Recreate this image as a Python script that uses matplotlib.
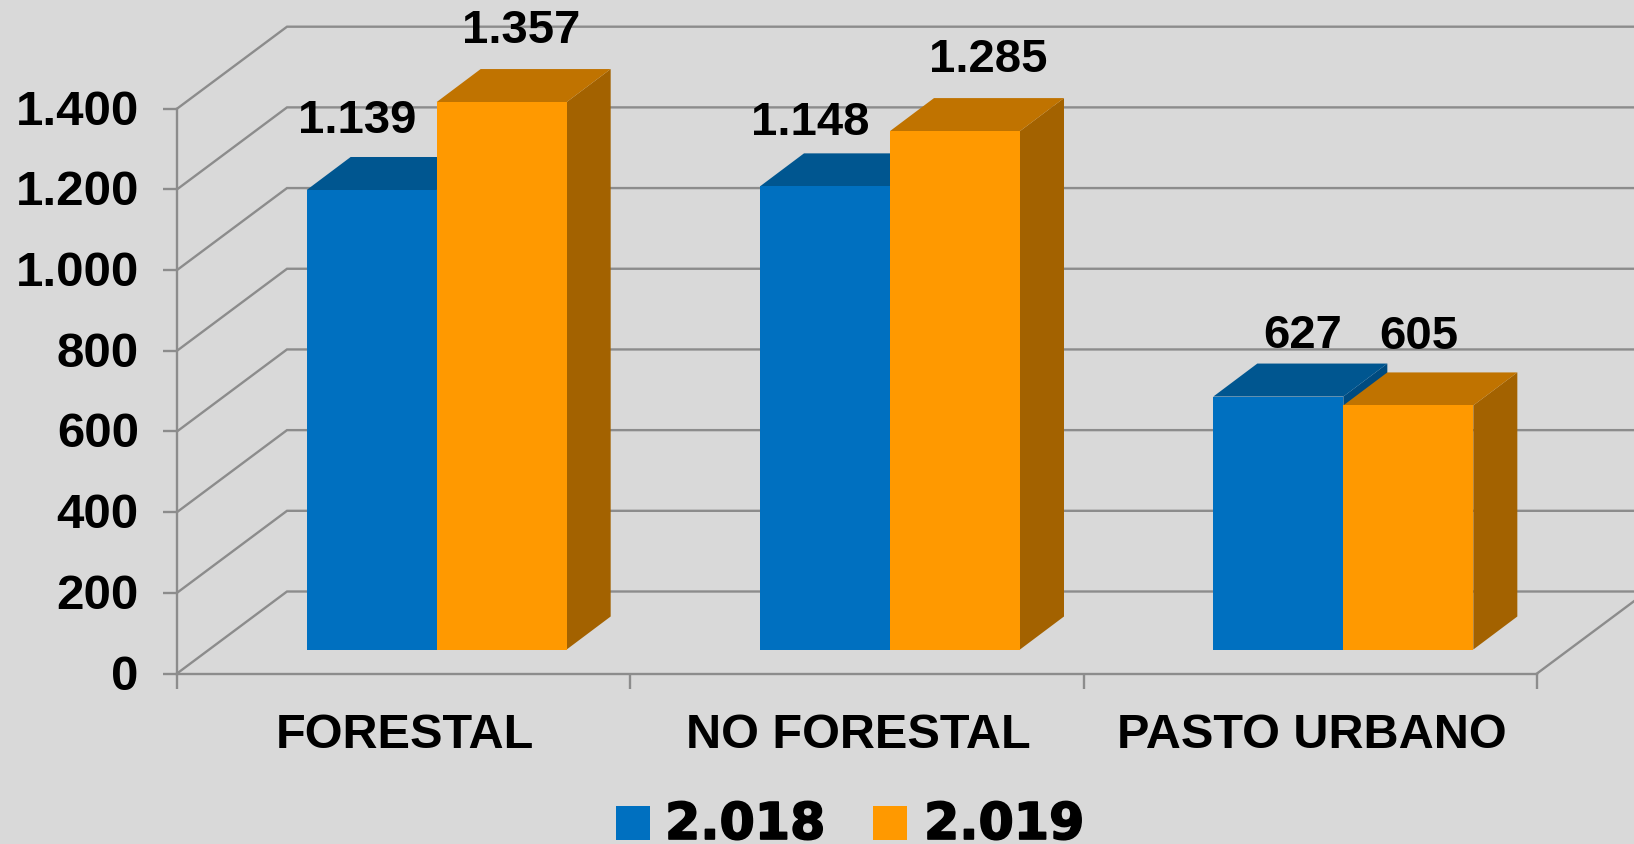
import matplotlib
matplotlib.use("Agg")
import matplotlib.pyplot as plt
import matplotlib.patheffects as pe
from matplotlib.patches import Polygon, Rectangle
from matplotlib.transforms import ScaledTranslation

categories = ["FORESTAL", "NO FORESTAL", "PASTO URBANO"]
series_names = ["2.018", "2.019"]
values_2018 = [1139, 1148, 627]
values_2019 = [1357, 1285, 605]
y_ticks = [0, 200, 400, 600, 800, 1000, 1200, 1400]
y_tick_labels = ["0", "200", "400", "600", "800", "1.000", "1.200", "1.400"]

W, H = 1634, 844
BG = "#d9d9d9"
GRID = "#8c8c8c"
plt.rcParams["font.family"] = ["Liberation Sans", "DejaVu Sans"]
plt.rcParams["font.weight"] = "bold"

fig = plt.figure(figsize=(W / 100, H / 100), dpi=100, facecolor=BG)
L, R, T0, B0 = 177, 1537, 108.7, 673.5
ax = fig.add_axes([L / W, 1 - B0 / H, (R - L) / W, (B0 - T0) / H], facecolor="none")
ax.set_xlim(0, 3)
ax.set_ylim(0, 1400)
px_x = 3 / (R - L)
px_y = 1400 / (B0 - T0)

# wall depth, in pixels
DX, DY = 110, 82
dx, dy = DX * px_x, DY * px_y
xmax_back = (W - L) * px_x + 0.01

for t in y_ticks:
    ax.plot([0, dx, xmax_back], [t, t + dy, t + dy], color=GRID, lw=1.7,
            clip_on=False, zorder=1, solid_joinstyle="miter")
far = (W - R) * px_x
ax.plot([3, 3 + far], [0, far / dx * dy], color=GRID, lw=1.7, clip_on=False, zorder=1)

for s in ("top", "right"):
    ax.spines[s].set_visible(False)
for s in ("left", "bottom"):
    ax.spines[s].set_color(GRID)
    ax.spines[s].set_linewidth(1.7)
ax.set_yticks(y_ticks, y_tick_labels)
ax.set_xticks([0, 1, 2, 3], [])
ax.tick_params(axis="y", length=10, width=1.7, color=GRID, labelsize=35.5, pad=17.5, labelcolor="black")
ax.tick_params(axis="x", length=10.5, width=1.7, color=GRID)
shift_up = ScaledTranslation(0, 1.5 / 100, fig.dpi_scale_trans)
for lab in ax.get_yticklabels():
    lab.set_transform(lab.get_transform() + shift_up)
for i, c in enumerate(categories):
    ax.annotate(c, (i + 0.5, 0), xytext=(1 * 0.72, -62 * 0.72), textcoords="offset points",
                ha="center", va="center", fontsize=35, fontweight="bold", color="black")

BAR = 130 * px_x
OFF_X, OFF_Y = 33 * px_x, 24 * px_y
DEP_X, DEP_Y = 44 * px_x, 33 * px_y
styles = [("#0070c0", "#005690", "#004b80"), ("#ff9900", "#c07300", "#a36200")]

# label offsets from the top-left of each front face, in pixels
label_offsets = [(51, 69), (85, 71), (50, 63), (98, 71), (89, 61), (75, 68)]

all_vals = [values_2018, values_2019]
for s, vals in enumerate(all_vals):
    front, top, side = styles[s]
    for i, v in enumerate(vals):
        x0 = i + 0.5 + OFF_X + (s - 1) * BAR
        b = OFF_Y
        t = OFF_Y + v
        x1 = x0 + BAR
        z = 3 + s
        ax.add_patch(Polygon([(x1, b), (x1 + DEP_X, b + DEP_Y), (x1 + DEP_X, t + DEP_Y), (x1, t)],
                             fc=side, ec="none", zorder=z, clip_on=False))
        ax.add_patch(Polygon([(x0, t), (x0 + DEP_X, t + DEP_Y), (x1 + DEP_X, t + DEP_Y), (x1, t)],
                             fc=top, ec="none", zorder=z, clip_on=False))
        ax.add_patch(Rectangle((x0, b), BAR, v, fc=front, ec="none", zorder=z + 0.5, clip_on=False))

for s, vals in enumerate(all_vals):
    for i, v in enumerate(vals):
        x0 = i + 0.5 + OFF_X + (s - 1) * BAR
        ox, oy = label_offsets[i * 2 + s]
        txt = f"{v:,}".replace(",", ".")
        ax.annotate(txt, (x0, OFF_Y + v), xytext=(ox * 0.72, oy * 0.72), textcoords="offset points",
                    ha="center", va="center", fontsize=34, fontweight="bold", color="black",
                    zorder=8, annotation_clip=False)

# legend
leg_sq = [616, 873]
leg_tx = [665, 924]
for s, name in enumerate(series_names):
    fig.patches.append(Rectangle((leg_sq[s] / W, 1 - 840 / H), 34 / W, 34 / H, transform=fig.transFigure,
                                 fc=styles[s][0], ec="none"))
    fig.text(leg_tx[s] / W, 1 - 839 / H, name, ha="left", va="baseline", fontsize=36.5, fontweight="bold",
             family="DejaVu Sans", color="black",
             path_effects=[pe.withStroke(linewidth=1.2, foreground="black")])

fig.savefig("out.png", dpi=100, facecolor=BG)
